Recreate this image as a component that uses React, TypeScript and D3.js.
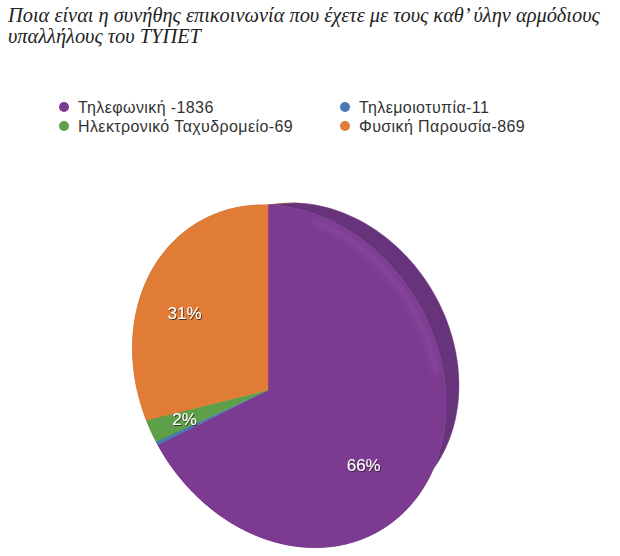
import { useMemo } from "react";
import * as d3 from "d3";

const W = 620;
const H = 556;

const titleLines = [
  "Ποια είναι η συνήθης επικοινωνία που έχετε με τους καθ’ ύλην αρμόδιους",
  "υπαλλήλους του ΤΥΠΕΤ",
];

const names = ["Τηλεφωνική ", "Τηλεμοιοτυπία", "Ηλεκτρονικό Ταχυδρομείο", "Φυσική Παρουσία"];
const values = [1836, 11, 69, 869];
const colors = ["#7c3a90", "#4a78b4", "#5e9f4a", "#e07c36"];
const sideColors = ["#67347c", "#3d6496", "#4d843c", "#b9652b"];

// tilted disc seen in perspective: pie centre, axes and perspective terms
const PIE = { cx: 268, cy: 390, a: 153, c: 29.8, d: 165.6, p: -0.135, q: 0.105 };
// thickness: back face pulled toward a vanishing point
const DEPTH = { vx: 597, vy: 182, k: 0.0855 };
const LABEL_R = 0.68;

type Pt = [number, number];

function project(angle: number, s = 1): Pt {
  const u = s * Math.sin(angle);
  const v = -s * Math.cos(angle);
  const w = 1 + PIE.p * u + PIE.q * v;
  return [PIE.cx + (PIE.a * u) / w, PIE.cy + (PIE.c * u + PIE.d * v) / w];
}

function back([x, y]: Pt): Pt {
  return [x + DEPTH.k * (DEPTH.vx - x), y + DEPTH.k * (DEPTH.vy - y)];
}

function arcAngles(a0: number, a1: number) {
  const n = Math.max(2, Math.ceil((a1 - a0) / (Math.PI / 180)));
  return d3.range(n + 1).map((i) => a0 + ((a1 - a0) * i) / n);
}

const line = d3.line<Pt>();

export default function App() {
  const total = d3.sum(values);

  const slices = useMemo(
    () =>
      d3
        .pie<number>()
        .value((d) => d)
        .sort(null)(values),
    []
  );

  // one wall polygon per slice; the ones facing us most are drawn last
  const walls = useMemo(() => {
    return slices
      .map((s, i) => {
        const front = arcAngles(s.startAngle, s.endAngle).map((a) => project(a));
        const rear = front.map(back);
        let facing = 0;
        for (let j = 0; j < front.length - 1; j++) {
          const f0 = front[j];
          const f1 = front[j + 1];
          const b0 = rear[j];
          const cross = (f1[0] - f0[0]) * (b0[1] - f0[1]) - (f1[1] - f0[1]) * (b0[0] - f0[0]);
          if (cross < 0) facing++;
        }
        return {
          d: line([...front, ...rear.reverse()])! + "Z",
          color: sideColors[i],
          facing: facing / (front.length - 1),
        };
      })
      .sort((a, b) => a.facing - b.facing);
  }, [slices]);

  const faces = slices.map((s, i) => {
    const pts: Pt[] = [[PIE.cx, PIE.cy], ...arcAngles(s.startAngle, s.endAngle).map((a) => project(a))];
    const mid = (s.startAngle + s.endAngle) / 2;
    const pct = (values[i] / total) * 100;
    return {
      d: line(pts)! + "Z",
      color: colors[i],
      label: pct >= 1 ? `${Math.round(pct)}%` : null,
      pos: project(mid, LABEL_R),
    };
  });

  const rim = line(arcAngles((15 * Math.PI) / 180, (75 * Math.PI) / 180).map((a) => project(a, 0.965)));

  return (
    <svg
      width={W}
      height={H}
      style={{ position: "absolute", left: 0, top: 0, background: "#fff" }}
    >
      <defs>
        <filter id="lblShadow" x="-20%" y="-30%" width="140%" height="160%">
          <feDropShadow dx="0.8" dy="1" stdDeviation="0.7" floodColor="#2a1a20" floodOpacity="0.85" />
        </filter>
        <filter id="soft" x="-20%" y="-20%" width="140%" height="140%">
          <feGaussianBlur stdDeviation="3" />
        </filter>
      </defs>

      <g fontFamily="'Liberation Serif', 'DejaVu Serif', serif" fontStyle="italic" fontSize={20.4} fill="#222">
        {titleLines.map((t, i) => (
          <text key={i} x={8} y={22 + i * 21}>
            {t}
          </text>
        ))}
      </g>

      <g fontFamily="'Liberation Sans', Arial, sans-serif" fontSize={16} letterSpacing={0.4} fill="#333">
        {names.map((n, i) => {
          const col = i % 2;
          const row = Math.floor(i / 2);
          const x = col === 0 ? 64 : 345;
          const y = 107 + row * 19;
          return (
            <g key={n}>
              <circle cx={x} cy={y} r={5} fill={colors[i]} />
              <text x={x + 14} y={y} dominantBaseline="central">
                {`${n}-${values[i]}`}
              </text>
            </g>
          );
        })}
      </g>

      <g>
        {walls.map((w, i) => (
          <path key={"w" + i} d={w.d} fill={w.color} stroke={w.color} strokeWidth={0.5} />
        ))}
        {faces.map((f, i) => (
          <path key={i} d={f.d} fill={f.color} stroke={f.color} strokeWidth={0.5} />
        ))}
        <path d={rim!} fill="none" stroke="#a06abb" strokeWidth={6} opacity={0.3} filter="url(#soft)" />
      </g>

      <g fontFamily="'Liberation Sans', Arial, sans-serif" fontSize={17} fill="#fff" filter="url(#lblShadow)">
        {faces.map((f, i) =>
          f.label ? (
            <text key={i} x={f.pos[0]} y={f.pos[1]} textAnchor="middle" dominantBaseline="central">
              {f.label}
            </text>
          ) : null
        )}
      </g>
    </svg>
  );
}
